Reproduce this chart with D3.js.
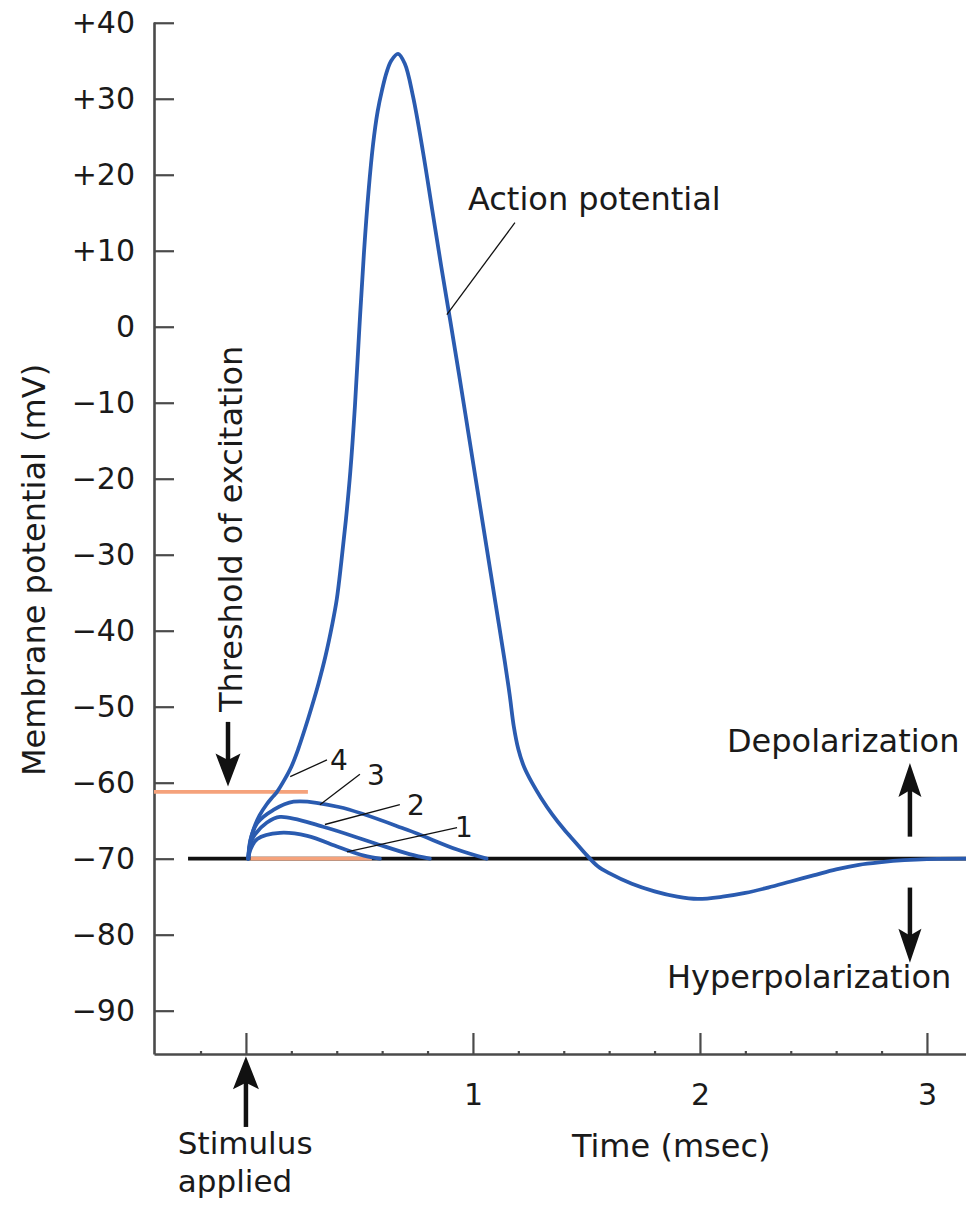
<!DOCTYPE html>
<html><head><meta charset="utf-8">
<script src="https://cdn.jsdelivr.net/npm/d3@7"></script>
<style>
html,body{margin:0;padding:0;background:#fff;}
svg{display:block;}
text{font-family:"DejaVu Sans",sans-serif;fill:#1a1a1a;}
</style>
</head><body>
<svg id="c" width="966" height="1211"></svg>
<script>
// ---- data ----
const timeDomain = [-0.405, 3.172];     // msec
const voltDomain = [-95.7, 40.1];       // mV
const yTicks = [40, 30, 20, 10, 0, -10, -20, -30, -40, -50, -60, -70, -80, -90];
const xTicks = [0, 1, 2, 3];
const xTickLabels = ["", "1", "2", "3"];
const xMinorTicks = [-0.2, 0.2, 0.4, 0.6, 0.8, 1.2, 1.4, 1.6, 1.8, 2.2, 2.4, 2.6, 2.8, 3.2];

const restingPotential = -70;
const thresholdPotential = -61.2;
const restLineTime = [-0.255, 3.172];
const thresholdLineTime = [-0.405, 0.273];
const subthresholdBaseTime = [0.02, 0.555];

// action potential (curve 4)
const apTime = [0.01, 0.02, 0.035, 0.06, 0.09, 0.12, 0.137, 0.17, 0.20, 0.23, 0.26, 0.29, 0.32, 0.35, 0.38,
  0.40, 0.42, 0.44, 0.46, 0.48, 0.50, 0.52, 0.54, 0.56, 0.58, 0.60, 0.62, 0.64, 0.67,
  0.70, 0.736, 0.78, 0.82, 0.86, 0.90, 0.94, 0.98, 1.02, 1.06, 1.10, 1.14, 1.162, 1.18, 1.20, 1.225, 1.26,
  1.30, 1.35, 1.40, 1.45, 1.50, 1.55, 1.60, 1.70, 1.80, 1.90, 1.99, 2.10, 2.20, 2.30, 2.40, 2.50, 2.60,
  2.70, 2.80, 2.90, 3.00, 3.172];
const apVoltage = [-70, -67.6, -66.0, -64.3, -62.9, -61.8, -61.2, -59.6, -57.9, -55.6, -52.9, -50.0, -46.9, -43.4, -39.2,
  -35.9, -31.0, -25.5, -19.0, -10.5, 0.0, 9.8, 17.8, 24.0, 28.3, 31.2, 33.5, 35.0, 35.9,
  34.6, 30.3, 23.0, 15.5, 8.0, 0.8, -6.5, -14.0, -21.5, -29.0, -36.5, -44.0, -48.5, -52.6, -55.6, -57.9, -60.0,
  -62.0, -64.2, -66.1, -67.8, -69.5, -71.0, -71.9, -73.3, -74.3, -75.0, -75.3, -75.0, -74.5, -73.8, -73.0, -72.2, -71.4,
  -70.8, -70.45, -70.2, -70.05, -70];

// subthreshold responses 1-3
const sub1Time = [0.01, 0.02, 0.05, 0.15, 0.27, 0.41, 0.52, 0.59];
const sub1Voltage = [-70, -68.8, -67.4, -66.6, -67.0, -68.5, -69.6, -70];
const sub2Time = [0.01, 0.02, 0.04, 0.09, 0.15, 0.34, 0.56, 0.72, 0.81];
const sub2Voltage = [-70, -68.0, -66.8, -65.3, -64.5, -65.8, -67.9, -69.4, -70];
const sub3Time = [0.01, 0.02, 0.05, 0.12, 0.21, 0.41, 0.71, 0.93, 1.06];
const sub3Voltage = [-70, -67.5, -65.3, -63.6, -62.5, -63.2, -66.2, -68.8, -70];

// curve labels with leader lines
const curveLabels = ["4", "3", "2", "1"];
const curveLabelPos = [[0.37, -58.3], [0.533, -60.3], [0.709, -64.2], [0.921, -67.2]];
const curveLeaders = [[0.195, -59.2, 0.357, -57.0], [0.326, -62.9, 0.502, -58.9],
  [0.348, -65.5, 0.678, -62.9], [0.445, -69.1, 0.93, -65.9]];
const apLeader = [0.885, 1.6, 1.185, 13.7];

// ---- drawing ----
const svg = d3.select("#c");
svg.append("rect").attr("width", 966).attr("height", 1211).attr("fill", "#fff");
const x = d3.scaleLinear().domain(timeDomain).range([154, 966]);
const y = d3.scaleLinear().domain(voltDomain).range([1054, 22]);

const blue = "#2a5bb0", orange = "#f5a27b", axisCol = "#4a4a4a";

// axes
const fmt = d => d > 0 ? "+" + d : (d < 0 ? "\u2212" + Math.abs(d) : "0");
const gy = svg.append("g").attr("transform", "translate(154,0)")
  .call(d3.axisLeft(y).tickValues(yTicks).tickSize(-20).tickSizeOuter(0).tickPadding(19).tickFormat(fmt));
const gxm = svg.append("g").attr("transform", "translate(0,1054)")
  .call(d3.axisBottom(x).tickValues(xMinorTicks).tickSize(-3).tickSizeOuter(0).tickFormat(""));
gxm.select(".domain").remove();
const gx = svg.append("g").attr("transform", "translate(0,1054)")
  .call(d3.axisBottom(x).tickValues(xTicks).tickSize(-21).tickSizeOuter(0).tickPadding(30)
    .tickFormat((d, i) => xTickLabels[i]));
[gy, gx, gxm].forEach(g => {
  g.selectAll("path.domain").attr("stroke", axisCol).attr("stroke-width", 2.6);
  g.selectAll(".tick line").attr("stroke", axisCol).attr("stroke-width", 2.2);
  g.selectAll(".tick text").attr("font-size", 30).attr("fill", "#1a1a1a")
    .attr("font-family", '"DejaVu Sans",sans-serif');
});

// resting and threshold lines
svg.append("line").attr("x1", x(restLineTime[0])).attr("x2", x(restLineTime[1]))
  .attr("y1", y(restingPotential)).attr("y2", y(restingPotential))
  .attr("stroke", "#111").attr("stroke-width", 3.8);
svg.append("line").attr("x1", x(subthresholdBaseTime[0])).attr("x2", x(subthresholdBaseTime[1]))
  .attr("y1", y(restingPotential)).attr("y2", y(restingPotential))
  .attr("stroke", orange).attr("stroke-width", 3.8);
svg.append("line").attr("x1", x(thresholdLineTime[0])).attr("x2", x(thresholdLineTime[1]))
  .attr("y1", y(thresholdPotential)).attr("y2", y(thresholdPotential))
  .attr("stroke", orange).attr("stroke-width", 3.8);

// curves
const line = d3.line().x(d => x(d[0])).y(d => y(d[1])).curve(d3.curveCatmullRom.alpha(0.5));
const series = [[sub1Time, sub1Voltage], [sub2Time, sub2Voltage], [sub3Time, sub3Voltage], [apTime, apVoltage]];
series.forEach(([ts, vs]) => {
  svg.append("path").datum(ts.map((t, i) => [t, vs[i]])).attr("d", line)
    .attr("fill", "none").attr("stroke", blue).attr("stroke-width", 3.8)
    .attr("stroke-linejoin", "round").attr("stroke-linecap", "round");
});

// leader lines & curve labels
curveLeaders.concat([apLeader]).forEach(l => {
  svg.append("line").attr("x1", x(l[0])).attr("y1", y(l[1])).attr("x2", x(l[2])).attr("y2", y(l[3]))
    .attr("stroke", "#111").attr("stroke-width", 1.3);
});
curveLabels.forEach((lab, i) => {
  svg.append("text").attr("x", x(curveLabelPos[i][0])).attr("y", y(curveLabelPos[i][1]))
    .attr("font-size", 28).text(lab);
});

// arrows
function arrow(t, v0, v1, headLen, headW) {
  const px = x(t), y0 = y(v0), y1 = y(v1), s = Math.sign(y1 - y0);
  svg.append("line").attr("x1", px).attr("x2", px).attr("y1", y0).attr("y2", y1 - s * headLen * 0.7)
    .attr("stroke", "#111").attr("stroke-width", 4.5);
  svg.append("path").attr("d", `M${px},${y1} L${px - headW / 2},${y1 - s * headLen} L${px},${y1 - s * headLen * 0.8} L${px + headW / 2},${y1 - s * headLen} Z`)
    .attr("fill", "#111");
}
arrow(0, -105.3, -96.0, 33, 26);          // stimulus
arrow(-0.079, -52.0, -60.5, 33, 25);      // threshold
arrow(2.925, -67.1, -57.4, 34, 23);       // depolarization
arrow(2.925, -73.8, -83.7, 34, 23);       // hyperpolarization

// text labels
const T = (t, v, s, size) => svg.append("text").attr("x", x(t)).attr("y", y(v)).attr("font-size", size || 32).text(s);
T(0.978, 15.4, "Action potential");
T(2.119, -55.9, "Depolarization");
T(1.855, -87.0, "Hyperpolarization");
T(1.436, -109.2, "Time (msec)");
T(-0.30, -108.9, "Stimulus", 31);
T(-0.30, -113.9, "applied", 31);
svg.append("text").attr("transform", `translate(${x(-0.018)},${y(-50.7)}) rotate(-90)`)
  .attr("font-size", 32).text("Threshold of excitation");
svg.append("text").attr("transform", `translate(45,570) rotate(-90)`)
  .attr("text-anchor", "middle").attr("font-size", 32).text("Membrane potential (mV)");
</script>
</body></html>
